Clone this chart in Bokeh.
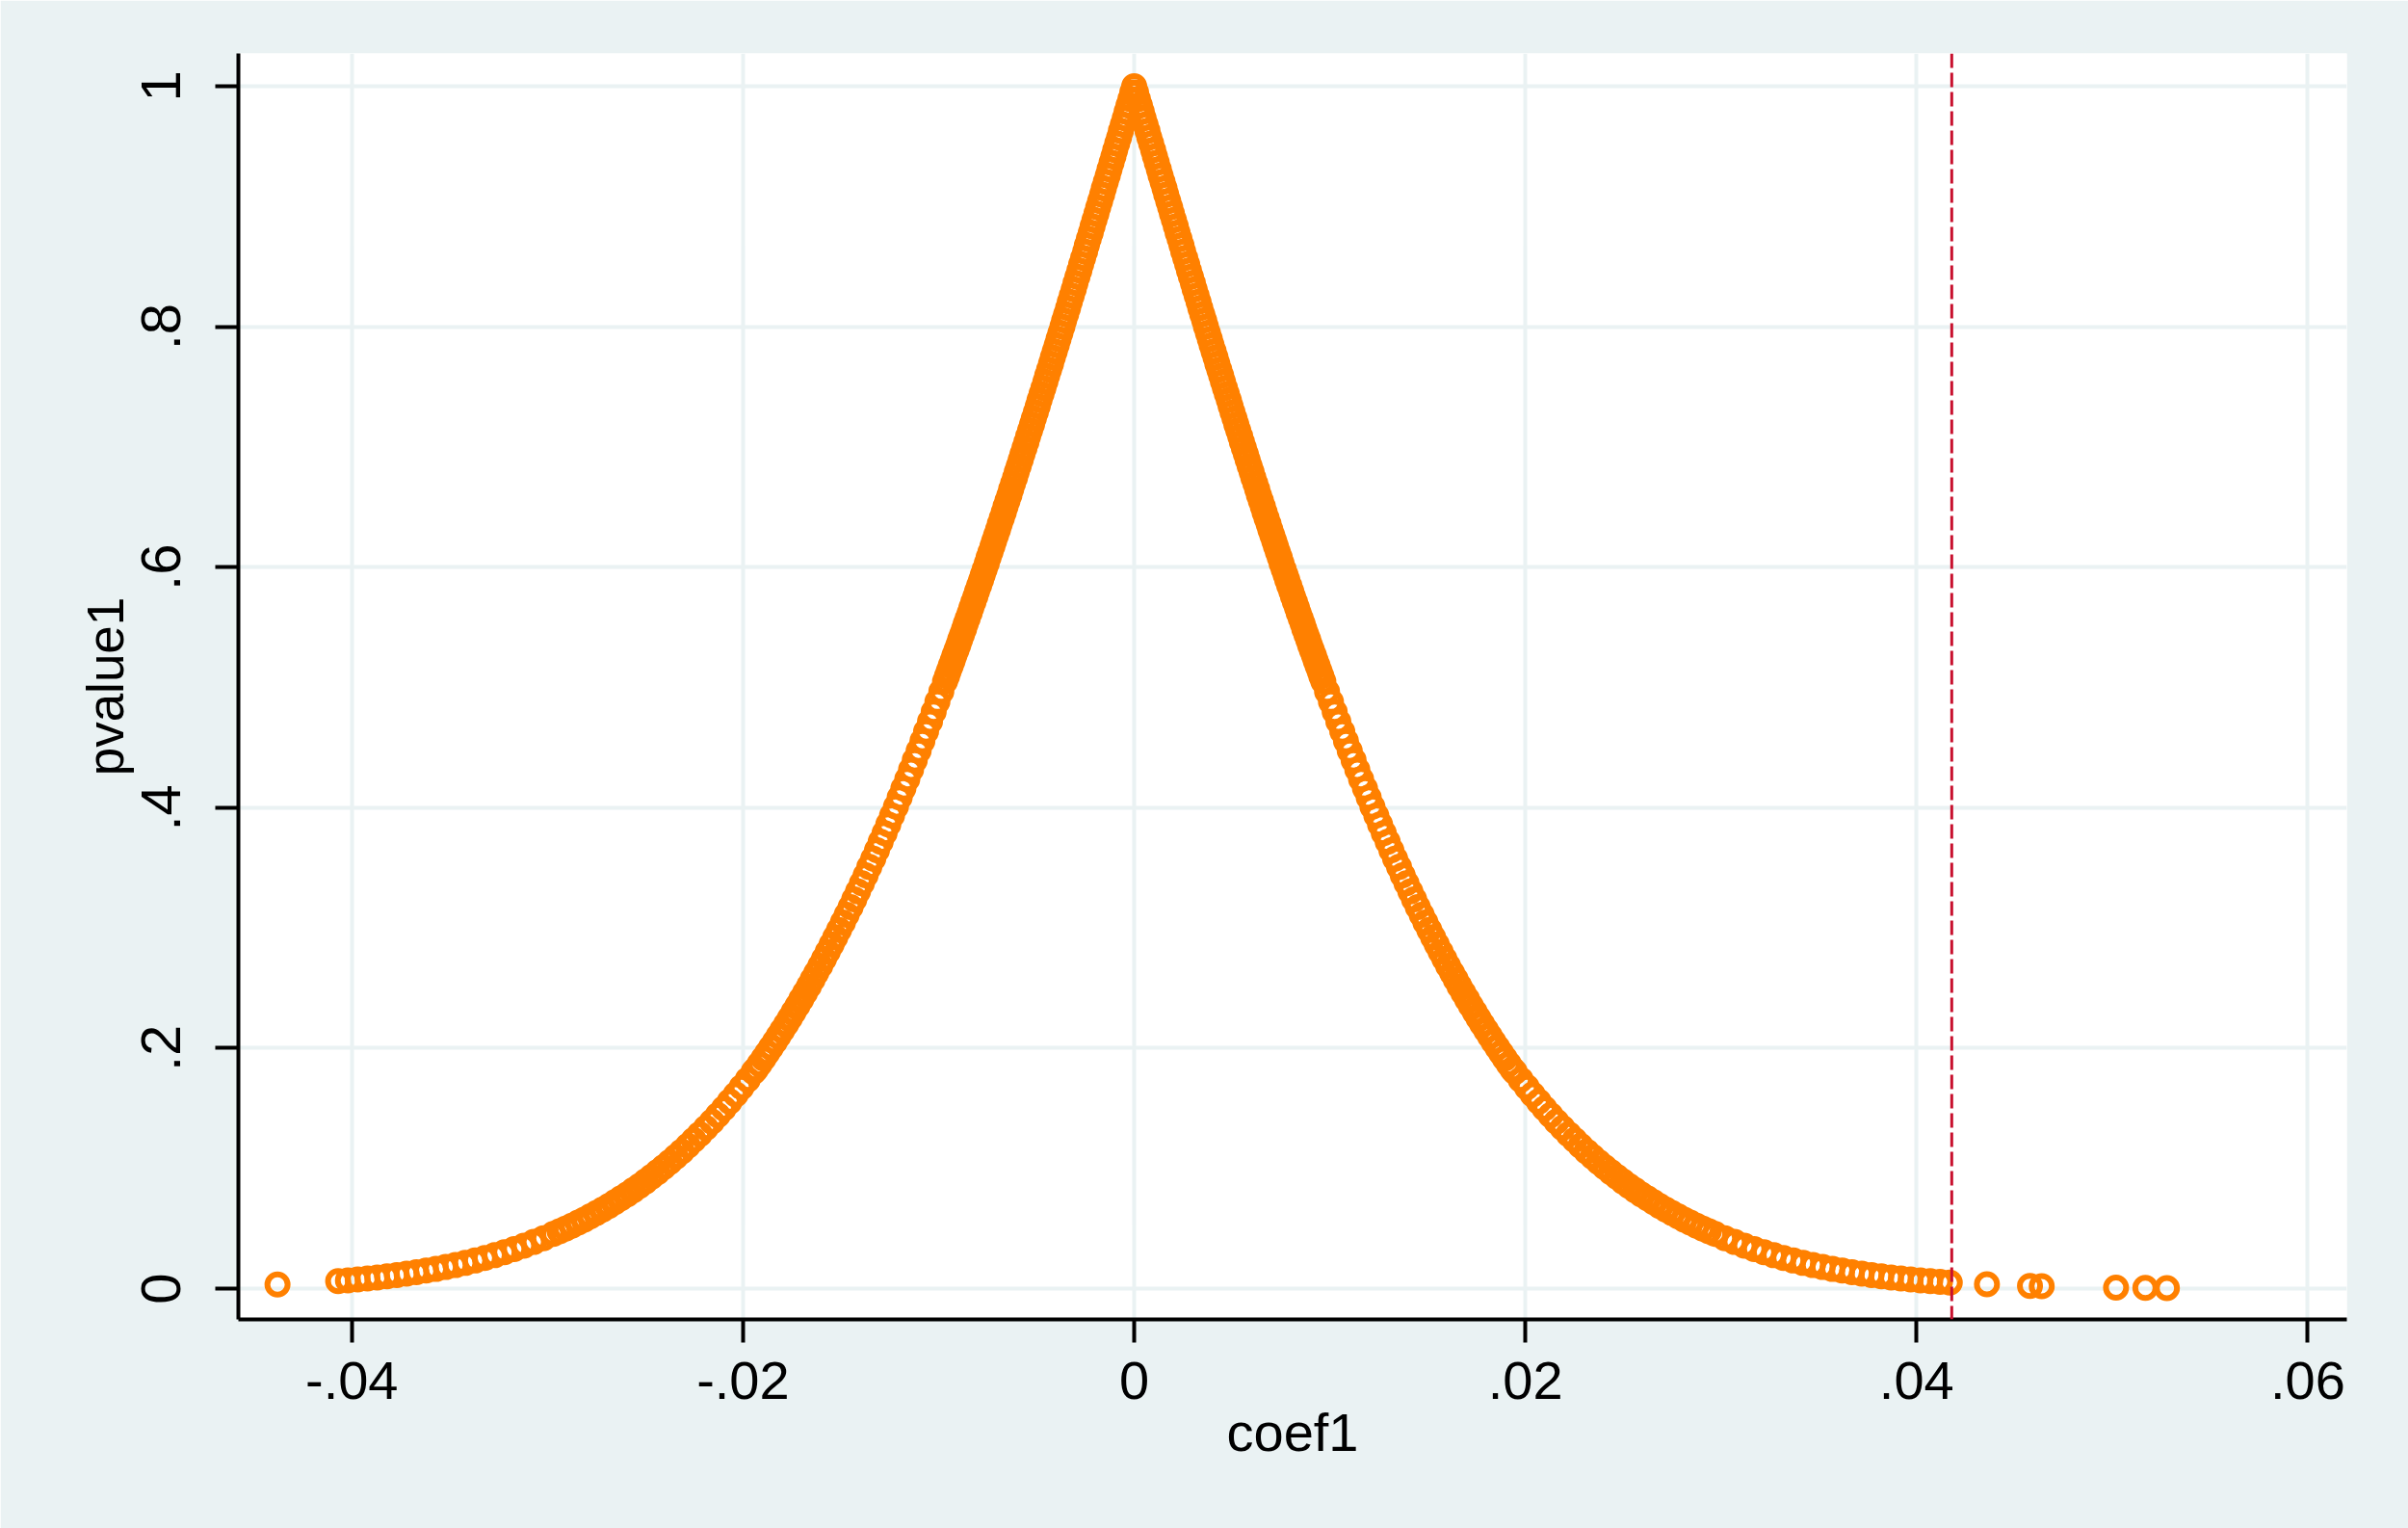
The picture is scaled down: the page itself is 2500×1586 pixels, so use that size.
from bokeh.plotting import figure
from bokeh.models import ColumnDataSource, FixedTicker, Span, Range1d
from bokeh.embed import file_html
from bokeh.resources import INLINE

# ---- data -----------------------------------------------------------------
coef_right = [
    0.00000, 0.00010, 0.00019, 0.00029, 0.00039, 0.00048, 0.00058, 0.00068, 0.00077, 0.00087,
    0.00097, 0.00106, 0.00116, 0.00126, 0.00135, 0.00145, 0.00155, 0.00164, 0.00174, 0.00184,
    0.00193, 0.00203, 0.00213, 0.00222, 0.00232, 0.00242, 0.00251, 0.00261, 0.00271, 0.00280,
    0.00290, 0.00300, 0.00309, 0.00319, 0.00329, 0.00338, 0.00348, 0.00358, 0.00367, 0.00377,
    0.00387, 0.00396, 0.00406, 0.00416, 0.00425, 0.00435, 0.00445, 0.00454, 0.00464, 0.00474,
    0.00484, 0.00493, 0.00503, 0.00513, 0.00522, 0.00532, 0.00542, 0.00551, 0.00561, 0.00571,
    0.00580, 0.00590, 0.00600, 0.00609, 0.00619, 0.00629, 0.00638, 0.00648, 0.00658, 0.00667,
    0.00677, 0.00687, 0.00696, 0.00706, 0.00716, 0.00725, 0.00735, 0.00745, 0.00754, 0.00764,
    0.00774, 0.00783, 0.00793, 0.00803, 0.00812, 0.00822, 0.00832, 0.00841, 0.00851, 0.00861,
    0.00870, 0.00880, 0.00890, 0.00899, 0.00909, 0.00919, 0.00928, 0.00938, 0.00948, 0.00957,
    0.00967,
    0.00986, 0.01006, 0.01025, 0.01044, 0.01064, 0.01083, 0.01102, 0.01122, 0.01141, 0.01160,
    0.01180, 0.01199, 0.01218, 0.01238, 0.01257, 0.01276, 0.01296, 0.01315, 0.01334, 0.01354,
    0.01373, 0.01392, 0.01412, 0.01431, 0.01450, 0.01470, 0.01489, 0.01509, 0.01528, 0.01547,
    0.01567, 0.01586, 0.01605, 0.01625, 0.01644, 0.01663, 0.01683, 0.01702, 0.01721, 0.01741,
    0.01760, 0.01779, 0.01799, 0.01818, 0.01837, 0.01857, 0.01876, 0.01895, 0.01915, 0.01934,
    0.01946, 0.01976, 0.02007, 0.02037, 0.02068, 0.02098, 0.02129, 0.02159, 0.02190, 0.02221,
    0.02252, 0.02282, 0.02313, 0.02344, 0.02375, 0.02406, 0.02437, 0.02468, 0.02499, 0.02530,
    0.02561, 0.02592, 0.02624, 0.02655, 0.02686, 0.02718, 0.02749, 0.02781, 0.02812, 0.02843,
    0.02875, 0.02907, 0.02938, 0.02970,
    0.0302, 0.0307, 0.0312, 0.0317, 0.0322, 0.0327, 0.0332, 0.0337, 0.0342, 0.0347,
    0.0352, 0.0357, 0.0362, 0.0367, 0.0372, 0.0377, 0.0382, 0.0387, 0.0392, 0.0397,
    0.0402, 0.0407, 0.0412, 0.0417,
    0.0436, 0.0458, 0.0464, 0.0502, 0.0517, 0.0528,
]
pvalue_right = [
    1.0000, 0.9947, 0.9894, 0.9840, 0.9787, 0.9734, 0.9681, 0.9628, 0.9574, 0.9522,
    0.9469, 0.9416, 0.9362, 0.9309, 0.9256, 0.9204, 0.9151, 0.9098, 0.9045, 0.8992,
    0.8939, 0.8887, 0.8834, 0.8782, 0.8729, 0.8677, 0.8624, 0.8572, 0.8519, 0.8467,
    0.8415, 0.8363, 0.8311, 0.8259, 0.8207, 0.8155, 0.8103, 0.8052, 0.8000, 0.7949,
    0.7897, 0.7846, 0.7795, 0.7744, 0.7693, 0.7642, 0.7591, 0.7541, 0.7490, 0.7440,
    0.7389, 0.7339, 0.7288, 0.7238, 0.7188, 0.7139, 0.7089, 0.7040, 0.6990, 0.6941,
    0.6892, 0.6843, 0.6794, 0.6745, 0.6696, 0.6648, 0.6599, 0.6551, 0.6503, 0.6455,
    0.6407, 0.6360, 0.6312, 0.6265, 0.6218, 0.6171, 0.6124, 0.6077, 0.6030, 0.5984,
    0.5938, 0.5892, 0.5846, 0.5801, 0.5755, 0.5710, 0.5664, 0.5619, 0.5574, 0.5530,
    0.5485, 0.5441, 0.5397, 0.5353, 0.5309, 0.5266, 0.5222, 0.5179, 0.5136, 0.5093,
    0.5050,
    0.4965, 0.4881, 0.4798, 0.4715, 0.4634, 0.4553, 0.4473, 0.4394, 0.4315, 0.4237,
    0.4160, 0.4084, 0.4009, 0.3935, 0.3861, 0.3789, 0.3717, 0.3646, 0.3576, 0.3507,
    0.3438, 0.3371, 0.3304, 0.3238, 0.3173, 0.3109, 0.3046, 0.2983, 0.2922, 0.2862,
    0.2801, 0.2743, 0.2685, 0.2627, 0.2571, 0.2515, 0.2460, 0.2407, 0.2354, 0.2301,
    0.2250, 0.2200, 0.2150, 0.2101, 0.2053, 0.2005, 0.1959, 0.1914, 0.1868, 0.1824,
    0.1802, 0.1738, 0.1676, 0.1615, 0.1556, 0.1499, 0.1443, 0.1389, 0.1336, 0.1285,
    0.1236, 0.1188, 0.1141, 0.1096, 0.1052, 0.1010, 0.0969, 0.0930, 0.0891, 0.0854,
    0.0819, 0.0784, 0.0751, 0.0719, 0.0688, 0.0658, 0.0629, 0.0601, 0.0574, 0.0549,
    0.0524, 0.0500, 0.0477, 0.0455,
    0.0420, 0.0388, 0.0357, 0.0329, 0.0303, 0.0278, 0.0255, 0.0234, 0.0214, 0.0196,
    0.0180, 0.0164, 0.0150, 0.0136, 0.0124, 0.0113, 0.0103, 0.0093, 0.0085, 0.0077,
    0.0069, 0.0063, 0.0057, 0.0051,
    0.0036, 0.0023, 0.0020, 0.0008, 0.0006, 0.0004,
]
coef_left = [
    -0.00010, -0.00019, -0.00029, -0.00039, -0.00048, -0.00058, -0.00068, -0.00077, -0.00087,
    -0.00097, -0.00106, -0.00116, -0.00126, -0.00135, -0.00145, -0.00155, -0.00164, -0.00174, -0.00184,
    -0.00193, -0.00203, -0.00213, -0.00222, -0.00232, -0.00242, -0.00251, -0.00261, -0.00271, -0.00280,
    -0.00290, -0.00300, -0.00309, -0.00319, -0.00329, -0.00338, -0.00348, -0.00358, -0.00367, -0.00377,
    -0.00387, -0.00396, -0.00406, -0.00416, -0.00425, -0.00435, -0.00445, -0.00454, -0.00464, -0.00474,
    -0.00484, -0.00493, -0.00503, -0.00513, -0.00522, -0.00532, -0.00542, -0.00551, -0.00561, -0.00571,
    -0.00580, -0.00590, -0.00600, -0.00609, -0.00619, -0.00629, -0.00638, -0.00648, -0.00658, -0.00667,
    -0.00677, -0.00687, -0.00696, -0.00706, -0.00716, -0.00725, -0.00735, -0.00745, -0.00754, -0.00764,
    -0.00774, -0.00783, -0.00793, -0.00803, -0.00812, -0.00822, -0.00832, -0.00841, -0.00851, -0.00861,
    -0.00870, -0.00880, -0.00890, -0.00899, -0.00909, -0.00919, -0.00928, -0.00938, -0.00948, -0.00957,
    -0.00967,
    -0.00986, -0.01006, -0.01025, -0.01044, -0.01064, -0.01083, -0.01102, -0.01122, -0.01141, -0.01160,
    -0.01180, -0.01199, -0.01218, -0.01238, -0.01257, -0.01276, -0.01296, -0.01315, -0.01334, -0.01354,
    -0.01373, -0.01392, -0.01412, -0.01431, -0.01450, -0.01470, -0.01489, -0.01509, -0.01528, -0.01547,
    -0.01567, -0.01586, -0.01605, -0.01625, -0.01644, -0.01663, -0.01683, -0.01702, -0.01721, -0.01741,
    -0.01760, -0.01779, -0.01799, -0.01818, -0.01837, -0.01857, -0.01876, -0.01895, -0.01915, -0.01934,
    -0.01946, -0.01976, -0.02007, -0.02037, -0.02068, -0.02098, -0.02129, -0.02159, -0.02190, -0.02221,
    -0.02252, -0.02282, -0.02313, -0.02344, -0.02375, -0.02406, -0.02437, -0.02468, -0.02499, -0.02530,
    -0.02561, -0.02592, -0.02624, -0.02655, -0.02686, -0.02718, -0.02749, -0.02781, -0.02812, -0.02843,
    -0.02875, -0.02907, -0.02938, -0.02970,
    -0.0302, -0.0307, -0.0312, -0.0317, -0.0322, -0.0327, -0.0332, -0.0337, -0.0342, -0.0347,
    -0.0352, -0.0357, -0.0362, -0.0367, -0.0372, -0.0377, -0.0382, -0.0387, -0.0392, -0.0397,
    -0.0402, -0.0407,
    -0.0438,
]
pvalue_left = [
    0.9947, 0.9894, 0.9840, 0.9787, 0.9734, 0.9681, 0.9628, 0.9574, 0.9522,
    0.9469, 0.9416, 0.9362, 0.9309, 0.9256, 0.9204, 0.9151, 0.9098, 0.9045, 0.8992,
    0.8939, 0.8887, 0.8834, 0.8782, 0.8729, 0.8677, 0.8624, 0.8572, 0.8519, 0.8467,
    0.8415, 0.8363, 0.8311, 0.8259, 0.8207, 0.8155, 0.8103, 0.8052, 0.8000, 0.7949,
    0.7897, 0.7846, 0.7795, 0.7744, 0.7693, 0.7642, 0.7591, 0.7541, 0.7490, 0.7440,
    0.7389, 0.7339, 0.7288, 0.7238, 0.7188, 0.7139, 0.7089, 0.7040, 0.6990, 0.6941,
    0.6892, 0.6843, 0.6794, 0.6745, 0.6696, 0.6648, 0.6599, 0.6551, 0.6503, 0.6455,
    0.6407, 0.6360, 0.6312, 0.6265, 0.6218, 0.6171, 0.6124, 0.6077, 0.6030, 0.5984,
    0.5938, 0.5892, 0.5846, 0.5801, 0.5755, 0.5710, 0.5664, 0.5619, 0.5574, 0.5530,
    0.5485, 0.5441, 0.5397, 0.5353, 0.5309, 0.5266, 0.5222, 0.5179, 0.5136, 0.5093,
    0.5050,
    0.4965, 0.4881, 0.4798, 0.4715, 0.4634, 0.4553, 0.4473, 0.4394, 0.4315, 0.4237,
    0.4160, 0.4084, 0.4009, 0.3935, 0.3861, 0.3789, 0.3717, 0.3646, 0.3576, 0.3507,
    0.3438, 0.3371, 0.3304, 0.3238, 0.3173, 0.3109, 0.3046, 0.2983, 0.2922, 0.2862,
    0.2801, 0.2743, 0.2685, 0.2627, 0.2571, 0.2515, 0.2460, 0.2407, 0.2354, 0.2301,
    0.2250, 0.2200, 0.2150, 0.2101, 0.2053, 0.2005, 0.1959, 0.1914, 0.1868, 0.1824,
    0.1802, 0.1738, 0.1676, 0.1615, 0.1556, 0.1499, 0.1443, 0.1389, 0.1336, 0.1285,
    0.1236, 0.1188, 0.1141, 0.1096, 0.1052, 0.1010, 0.0969, 0.0930, 0.0891, 0.0854,
    0.0819, 0.0784, 0.0751, 0.0719, 0.0688, 0.0658, 0.0629, 0.0601, 0.0574, 0.0549,
    0.0524, 0.0500, 0.0477, 0.0455,
    0.0420, 0.0388, 0.0357, 0.0329, 0.0303, 0.0278, 0.0255, 0.0234, 0.0214, 0.0196,
    0.0180, 0.0164, 0.0150, 0.0136, 0.0124, 0.0113, 0.0103, 0.0093, 0.0085, 0.0077,
    0.0069, 0.0063,
    0.0035,
]

x_ticks = [-0.04, -0.02, 0, 0.02, 0.04, 0.06]
x_tick_labels = ["-.04", "-.02", "0", ".02", ".04", ".06"]
y_ticks = [0, 0.2, 0.4, 0.6, 0.8, 1]
y_tick_labels = ["0", ".2", ".4", ".6", ".8", "1"]
x_label = "coef1"
y_label = "pvalue1"
ref_line_x = 0.0418

# ---- styling ----------------------------------------------------------------
BG = "#EAF2F3"
ORANGE = "#FF8000"
FONT = "Liberation Sans"

source = ColumnDataSource(data=dict(
    coef=coef_left + coef_right,
    pvalue=pvalue_left + pvalue_right,
))

p = figure(width=2500, height=1586, output_backend="svg", toolbar_location=None,
           title=None,
           x_range=Range1d(-0.0458, 0.0620), y_range=Range1d(-0.0256, 1.0272),
           min_border_left=247, min_border_right=64,
           min_border_top=55, min_border_bottom=217)

p.border_fill_color = BG
p.background_fill_color = "white"
p.outline_line_color = None

p.grid.grid_line_color = BG
p.grid.grid_line_width = 4

p.xaxis.ticker = FixedTicker(ticks=x_ticks)
p.yaxis.ticker = FixedTicker(ticks=y_ticks)
p.xaxis.major_label_overrides = dict(zip(x_ticks, x_tick_labels))
p.yaxis.major_label_overrides = dict(zip(y_ticks, y_tick_labels))
p.xaxis.axis_label = x_label
p.yaxis.axis_label = y_label
p.yaxis.major_label_orientation = "vertical"

for ax in (p.xaxis[0], p.yaxis[0]):
    ax.axis_line_color = "black"
    ax.axis_line_width = 4
    ax.major_tick_line_color = "black"
    ax.major_tick_line_width = 4
    ax.major_tick_out = 24
    ax.major_tick_in = 0
    ax.minor_tick_line_color = None
    ax.major_label_text_font = FONT
    ax.major_label_text_color = "black"
    ax.axis_label_text_font = FONT
    ax.axis_label_text_font_style = "normal"
    ax.axis_label_text_color = "black"

p.xaxis.major_label_text_font_size = "56px"
p.xaxis.axis_label_text_font_size = "56px"
p.yaxis.major_label_text_font_size = "58px"
p.yaxis.axis_label_text_font_size = "53px"

p.xaxis.major_label_standoff = 20
p.xaxis.axis_label_standoff = 0
p.yaxis.major_label_standoff = 36
p.yaxis.axis_label_standoff = 6

p.scatter("coef", "pvalue", source=source, marker="circle", size=21,
          fill_color=None, line_color=ORANGE, line_width=6)

p.add_layout(Span(location=ref_line_x, dimension="height", line_color="#C8102E",
                  line_width=3, line_dash="15 5"))

html = file_html(p, INLINE)
html = html.replace("<body>", '<body style="background-color:#EAF2F3;">', 1)
open("out.html", "w").write(html)
